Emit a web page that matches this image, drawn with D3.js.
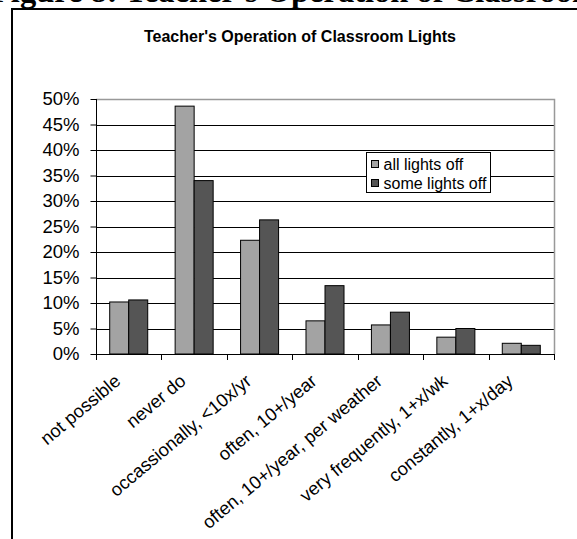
<!DOCTYPE html>
<html>
<head>
<meta charset="utf-8">
<script src="https://cdn.jsdelivr.net/npm/d3@7"></script>
<style>
html,body{margin:0;padding:0;background:#fff;}
svg{display:block;}
text{font-family:"Liberation Sans",Arial,sans-serif;}
</style>
</head>
<body>
<svg id="chart" width="577" height="539"></svg>
<script>
const categories = ["not possible","never do","occassionally, <10x/yr","often, 10+/year","often, 10+/year, per weather","very frequently, 1+x/wk","constantly, 1+x/day"];
const allLightsOff = [10.2, 48.6, 22.3, 6.5, 5.7, 3.3, 2.1];
const someLightsOff = [10.6, 34.0, 26.3, 13.4, 8.2, 5.0, 1.7];
const seriesNames = ["all lights off","some lights off"];
const seriesColors = ["#a3a3a3","#555555"];
const yTicks = [0,5,10,15,20,25,30,35,40,45,50];
const chartTitle = "Teacher's Operation of Classroom Lights";
const figureHeading = "Figure 8: Teacher's Operation of Classroom Lights";

(function(){
const svg = d3.select("#chart");
svg.append("rect").attr("width",577).attr("height",539).attr("fill","#fff");

// cropped figure heading at top
svg.append("text").attr("x",-9).attr("y",2)
  .style("font-family","'Liberation Serif','Times New Roman',serif")
  .style("font-weight","bold").style("font-size","32.5px")
  .text(figureHeading);

// outer frame
svg.append("rect").attr("x",12).attr("y",9).attr("width",600).attr("height",600)
  .attr("fill","#fff").attr("stroke","#000").attr("stroke-width",2);

const pL=96, pR=554, pT=99, pB=354;

const x0 = d3.scaleBand().domain(categories).range([pL,pR]).paddingInner(0.419).paddingOuter(0.2095);
const x1 = d3.scaleBand().domain(seriesNames).range([0,x0.bandwidth()]);
const y = d3.scaleLinear().domain([0,50]).range([pB,pT]);

// title
svg.append("text").attr("x",300).attr("y",42).attr("text-anchor","middle")
  .style("font-weight","bold").style("font-size","16px").text(chartTitle);

// gridlines
svg.append("g").selectAll("line").data(yTicks.filter(d=>d>0&&d<50)).join("line")
  .attr("x1",pL).attr("x2",pR).attr("y1",d=>Math.round(y(d))+0.5).attr("y2",d=>Math.round(y(d))+0.5)
  .attr("stroke","#000").attr("stroke-width",1);
// plot area border top/right gray
svg.append("path")
  .attr("d",`M${pL},${Math.round(y(50))+0.5}H${pR+0.5}V${pB}`)
  .attr("fill","none").attr("stroke","#999").attr("stroke-width",1.5);

// bars
const groups = svg.append("g").selectAll("g").data(categories).join("g")
  .attr("transform",d=>`translate(${x0(d)},0)`);
groups.selectAll("rect").data((d,i)=>[
  {s:seriesNames[0],v:allLightsOff[i],c:seriesColors[0]},
  {s:seriesNames[1],v:someLightsOff[i],c:seriesColors[1]}]).join("rect")
  .attr("x",d=>x1(d.s)).attr("width",x1.bandwidth())
  .attr("y",d=>y(d.v)).attr("height",d=>y(0)-y(d.v))
  .attr("fill",d=>d.c).attr("stroke","#000").attr("stroke-width",1);

// y axis
const yAxis = d3.axisLeft(y).tickValues(yTicks).tickFormat(d=>d+"%").tickSize(6).tickPadding(11);
const gy = svg.append("g").attr("transform",`translate(${pL+0.5},0)`).call(yAxis);
gy.select(".domain").attr("stroke","#000").attr("d",`M0,${pT}V${pB}`);
gy.selectAll(".tick line").attr("stroke","#000");
gy.selectAll("text").style("font-size","18.5px").attr("fill","#000")
  .style("font-family","'Liberation Sans',Arial,sans-serif");

// x axis
const bounds = d3.range(categories.length+1).map(i=>pL + i*x0.step());
const gx = svg.append("g");
gx.append("line").attr("x1",pL).attr("x2",pR+1).attr("y1",pB+0.5).attr("y2",pB+0.5).attr("stroke","#000");
gx.selectAll("line.t").data(bounds).join("line").attr("class","t")
  .attr("x1",d=>Math.round(d)+0.5).attr("x2",d=>Math.round(d)+0.5)
  .attr("y1",pB).attr("y2",pB+6).attr("stroke","#000");
gx.selectAll("text").data(categories).join("text")
  .attr("text-anchor","end")
  .attr("transform",d=>`translate(${x0(d)+x0.bandwidth()/2-7},${pB+29}) rotate(-40)`)
  .style("font-size","18.3px").text(d=>d);

// legend
const lg = svg.append("g").attr("transform","translate(366.5,152.5)");
lg.append("rect").attr("width",124).attr("height",40).attr("fill","#fff").attr("stroke","#000").attr("stroke-width",1);
seriesNames.forEach((s,i)=>{
  lg.append("rect").attr("x",5).attr("y",8+i*19).attr("width",7).attr("height",7)
    .attr("fill",seriesColors[i]).attr("stroke","#000");
  lg.append("text").attr("x",17).attr("y",17+i*19).style("font-size","16px").text(s);
});
})();
</script>
</body>
</html>
